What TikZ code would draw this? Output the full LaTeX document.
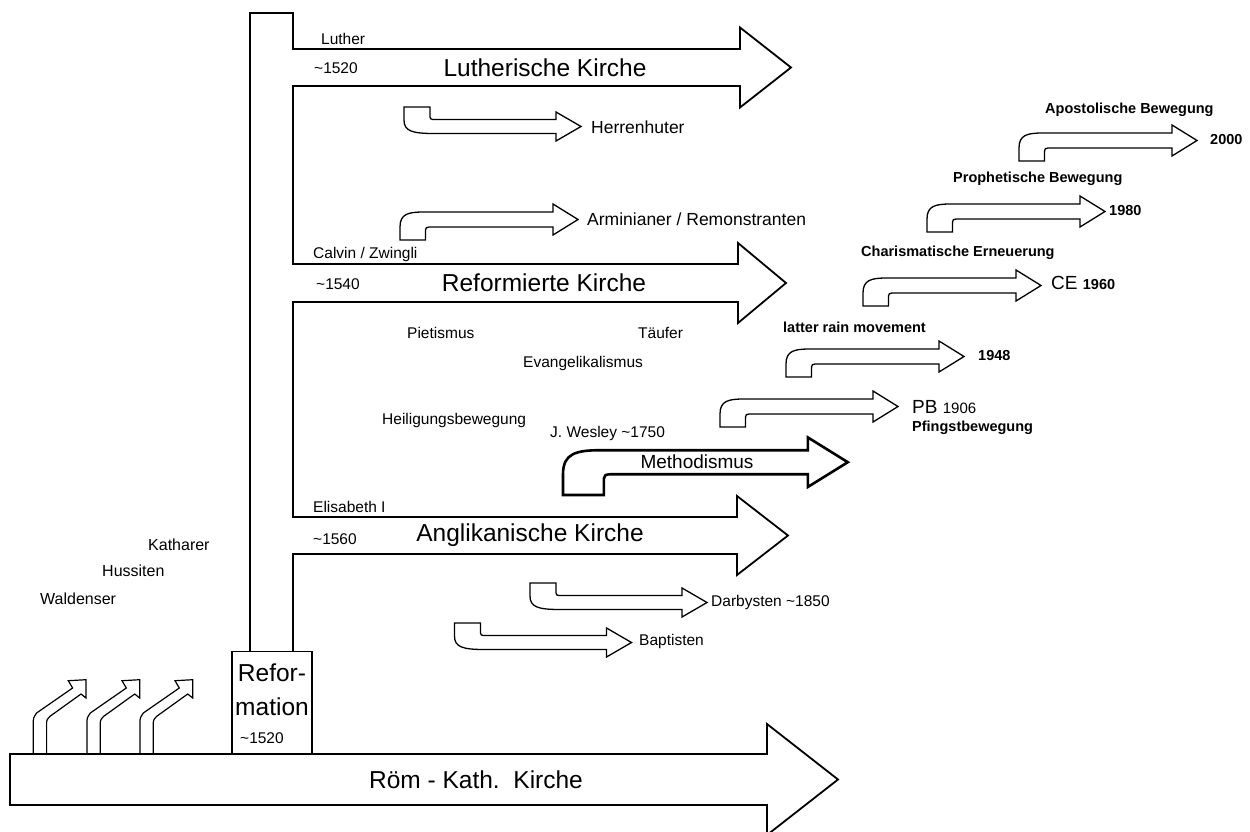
\documentclass[tikz,border=0pt]{standalone}
\usepackage{fontspec}
\setmainfont{Liberation Sans}
\begin{document}
\begin{tikzpicture}[x=1pt, y=-1pt,
outline/.style={draw=black, line width=1.8pt, line join=miter},
smalltxt/.style={anchor=west, inner sep=0pt, font=\fontsize{15.5}{18}\selectfont},
midtxt/.style={anchor=west, inner sep=0pt, font=\fontsize{17.5}{20}\selectfont},
bigtxt/.style={inner sep=0pt, font=\fontsize{24.5}{28}\selectfont},
boldtxt/.style={anchor=west, inner sep=0pt, font=\bfseries\fontsize{14.5}{17}\selectfont},
hookdown/.pic={\draw[line width=1.3pt, fill=white] (0,0) -- (26,0) -- (26,7) .. controls (26,12.5) .. (32,12.5) -- (152,12.5) -- (152,5) -- (177,19.5) -- (152,34) -- (152,26.5) -- (30,26.5) .. controls (8,26.5) and (0,24) .. (0,13) -- cycle;},
hookup/.pic={\draw[line width=#1, fill=white] (0,0) -- (0,-13) .. controls (0,-26) and (8,-28) .. (24,-28) -- (153,-28) -- (153,-36) -- (178,-20.5) -- (153,-5) -- (153,-13) -- (33,-13) .. controls (25.5,-13) .. (25.5,-7) -- (25.5,0) -- cycle;},
riseup/.pic={\draw[line width=1.2pt] (0,0) -- (0,-30) .. controls (0,-35) .. (3.3,-40) -- (39.3,-65) -- (35,-72.3) -- (52.7,-73.3) -- (52.7,-55) -- (47.7,-59) -- (16.7,-36.7) .. controls (13.3,-33) .. (13.3,-28.3) -- (13.3,0);},
]

\useasboundingbox (0,0) rectangle (1250,832);

% trunk with the three churches
\draw[outline] (250,651) -- (250,13) -- (293,13) -- (293,49) -- (740,49) -- (740,27.5) -- (791,67.5) -- (740,107.5) -- (740,86) -- (293,86)
  -- (293,264) -- (738,264) -- (738,243) -- (786,283) -- (738,323) -- (738,302) -- (293,302)
  -- (293,517) -- (737,517) -- (737,496) -- (788,535.5) -- (737,575) -- (737,554) -- (293,554) -- (293,651);

% catholic church
\draw[outline] (10,754) -- (767,754) -- (767,724) -- (838,779.5) -- (767,835) -- (767,805) -- (10,805) -- cycle;

\node (reform) [draw=black, line width=1.8pt, fill=white, rectangle, minimum width=80pt, minimum height=102pt, inner sep=0pt] at (272,702.5) {};
\node (refor) [bigtxt] at (272,673) {Refor-};
\node (mation) [bigtxt] at (272,707) {mation};
\node (reformyear) [smalltxt] at (240,738) {\textasciitilde1520};

\node (romkath) [bigtxt] at (476,779.5) {Röm - Kath.\ \ Kirche};

% forerunners
\pic at (33.3,753) {riseup};
\pic at (87,753) {riseup};
\pic at (140,753) {riseup};

\node (katharer) [smalltxt, font=\fontsize{16}{18}\selectfont] at (148,545) {Katharer};
\node (hussiten) [smalltxt, font=\fontsize{16}{18}\selectfont] at (102,571) {Hussiten};
\node (waldenser) [smalltxt, font=\fontsize{16}{18}\selectfont] at (40,599) {Waldenser};

% lutheran
\node (luther) [smalltxt] at (321,39) {Luther};
\node (lutheryear) [smalltxt] at (314,68) {\textasciitilde1520};
\node (lutherkirche) [bigtxt] at (545,67.5) {Lutherische Kirche};

\pic at (404,107) {hookdown};
\node (herrnhut) [midtxt] at (591,127) {Herrenhuter};

% reformed
\pic at (400,240) {hookup=1.3pt};
\node (arminian) [midtxt] at (587,219) {Arminianer / Remonstranten};

\node (calvin) [smalltxt] at (313,254) {Calvin / Zwingli};
\node (calvinyear) [smalltxt] at (316,284) {\textasciitilde1540};
\node (reformkirche) [bigtxt] at (544,283) {Reformierte Kirche};

\node (pietismus) [smalltxt] at (407,333) {Pietismus};
\node (taeufer) [smalltxt] at (638,333) {Täufer};
\node (evangelikal) [smalltxt] at (523,363) {Evangelikalismus};
\node (heiligung) [smalltxt] at (382,420) {Heiligungsbewegung};

% methodism
\node (wesley) [smalltxt] at (550,433) {J. Wesley \textasciitilde1750};
\pic[scale=1.6] at (563,495) {hookup=2.6pt};
\node (methodismus) [bigtxt, font=\fontsize{19}{22}\selectfont] at (697,462) {Methodismus};

% anglican
\node (elisabeth) [smalltxt] at (313,507) {Elisabeth I};
\node (anglyear) [smalltxt] at (313,539) {\textasciitilde1560};
\node (anglkirche) [bigtxt] at (530,535.5) {Anglikanische Kirche};

\pic at (530,583) {hookdown};
\node (darby) [smalltxt] at (711,602) {Darbysten \textasciitilde1850};
\pic at (454.5,623) {hookdown};
\node (baptist) [smalltxt] at (639,641) {Baptisten};

% pentecostal waves
\pic at (720,427) {hookup=1.3pt};
\node (pb) [midtxt, font=\fontsize{19}{22}\selectfont] at (912,407) {PB {\fontsize{15}{18}\selectfont 1906}};
\node (pfingst) [boldtxt] at (912,428) {Pfingstbewegung};

\pic at (786,377) {hookup=1.3pt};
\node (latter) [boldtxt] at (783,327) {latter rain movement};
\node (latteryear) [boldtxt] at (978,356) {1948};

\pic at (863,306) {hookup=1.3pt};
\node (charis) [boldtxt] at (861,253) {Charismatische Erneuerung};
\node (ce) [midtxt, font=\fontsize{19}{22}\selectfont] at (1051,283) {CE {\bfseries\fontsize{14.5}{17}\selectfont 1960}};

\pic at (927,232) {hookup=1.3pt};
\node (prophet) [boldtxt] at (953,179) {Prophetische Bewegung};
\node (prophetyear) [boldtxt] at (1109,211) {1980};

\pic at (1019,161) {hookup=1.3pt};
\node (apostel) [boldtxt] at (1045,110) {Apostolische Bewegung};
\node (apostelyear) [boldtxt] at (1210,140) {2000};

\end{tikzpicture}
\end{document}
